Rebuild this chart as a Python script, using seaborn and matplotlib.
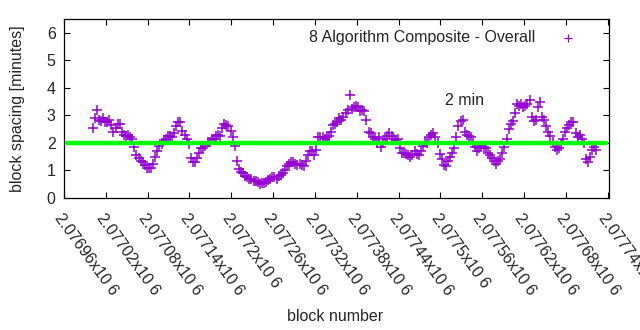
import numpy as np
import pandas as pd
import matplotlib
matplotlib.use("Agg")
import matplotlib.pyplot as plt
import matplotlib.transforms as mtransforms
import seaborn as sns

# ---- data ----
first_block = 2077001
block_step = 3
spacing_min = [
    2.55, 2.9, 3.2, 2.85, 2.8, 2.9, 2.75, 2.75, 2.85, 2.65,
    2.4, 2.55, 2.7, 2.7, 2.4, 2.3, 2.25, 2.3, 2.2, 2.15,
    1.85, 1.55, 1.45, 1.35, 1.3, 1.2, 1.1, 1.1, 1.1, 1.25,
    1.5, 1.7, 1.9, 1.95, 2.1, 2.15, 2.25, 2.25, 2.2, 2.35,
    2.6, 2.75, 2.75, 2.45, 2.3, 2.15, 1.95, 1.45, 1.3, 1.3,
    1.45, 1.65, 1.8, 1.8, 1.9, 2.05, 2.05, 2.15, 2.15, 2.25,
    2.3, 2.25, 2.55, 2.7, 2.65, 2.6, 2.45, 2.2, 1.9, 1.35,
    1.05, 0.95, 0.9, 0.8, 0.75, 0.7, 0.7, 0.6, 0.6, 0.58,
    0.5, 0.55, 0.55, 0.58, 0.65, 0.68, 0.75, 0.78, 0.7, 0.8,
    0.82, 0.9, 1.0, 1.15, 1.25, 1.3, 1.3, 1.25, 1.2, 1.25,
    1.2, 1.15, 1.35, 1.55, 1.7, 1.7, 1.55, 1.75, 2.2, 2.2,
    2.2, 2.15, 2.2, 2.25, 2.4, 2.65, 2.7, 2.75, 2.9, 2.85,
    2.95, 3.1, 3.2, 3.75, 3.25, 3.3, 3.35, 3.3, 3.15, 3.2,
    3.15, 2.85, 2.4, 2.35, 2.2, 2.15, 2.0, 2.2, 1.85, 2.0,
    2.15, 2.25, 2.35, 2.25, 2.15, 2.1, 2.15, 1.8, 1.65, 1.65,
    1.6, 1.55, 1.5, 1.55, 1.7, 1.6, 1.55, 1.7, 1.9, 2.05,
    2.0, 2.2, 2.3, 2.35, 2.2, 2.0, 1.6, 1.4, 1.2, 1.15,
    1.35, 1.5, 1.65, 1.8, 2.2, 2.6, 2.8, 2.85, 2.4, 2.3,
    2.25, 2.2, 2.0, 1.85, 1.7, 1.8, 1.9, 1.85, 1.8, 1.65,
    1.55, 1.45, 1.35, 1.25, 1.35, 1.4, 1.65, 1.85, 2.15, 2.5,
    2.7, 2.8, 3.1, 3.4, 3.35, 3.4, 3.3, 3.35, 3.4, 3.55,
    2.95, 2.8, 2.85, 3.3, 3.5, 2.95, 2.85, 2.6, 2.4, 2.25,
    2.05, 1.85, 1.75, 1.8, 1.95, 2.15, 2.4, 2.55, 2.65, 2.75,
    2.75, 2.35, 2.2, 2.3, 2.15, 2.0, 1.4, 1.3, 1.5, 1.75,
    1.85, 1.75,
]
target_minutes = 2
series_label = "8 Algorithm Composite - Overall"
x_tick_values = [2076960 + 60 * k for k in range(14)]
x_tick_labels = ["2.07696x10 6", "2.07702x10 6", "2.07708x10 6", "2.07714x10 6",
                 "2.0772x10 6", "2.07726x10 6", "2.07732x10 6", "2.07738x10 6",
                 "2.07744x10 6", "2.0775x10 6", "2.07756x10 6", "2.07762x10 6",
                 "2.07768x10 6", "2.07774x10 6"]
y_ticks = [0, 1, 2, 3, 4, 5, 6]

blocks = first_block + block_step * np.arange(len(spacing_min))
df = pd.DataFrame({"block": blocks, "spacing": spacing_min})

# ---- plot ----
sns.set_theme(style="white")
plt.rcParams["font.family"] = ["Liberation Sans", "DejaVu Sans"]
FS = 11.5
txt_col = "#262626"

fig = plt.figure(figsize=(6.4, 3.3), dpi=100)
ax = fig.add_axes([64 / 640, 132 / 330, 545 / 640, 179 / 330])

purple = "#9400D3"
sns.scatterplot(data=df, x="block", y="spacing", ax=ax, marker="+",
                s=52, color=purple, linewidth=1.1, label=series_label,
                zorder=3)
ax.axhline(target_minutes, xmin=0.005, xmax=0.995, color="#00FF00",
           lw=3.2, zorder=4)
ax.text(2077535, 3.53, "2 min", fontsize=FS, ha="center", va="center",
        color=txt_col)

ax.set_xlim(2076960, 2077742)
ax.set_ylim(0, 6.5)
ax.set_yticks(y_ticks)
ax.set_yticklabels([str(v) for v in y_ticks], fontsize=FS)
ax.set_xticks(x_tick_values)
ax.set_xticklabels(x_tick_labels, fontsize=FS, rotation=-54,
                   ha="left", va="top", rotation_mode="anchor")
shift = mtransforms.ScaledTranslation(6 / 100, 0, fig.dpi_scale_trans)
for lbl in ax.get_xticklabels():
    lbl.set_transform(lbl.get_transform() + shift)
ax.tick_params(axis="both", direction="in", length=4, width=0.8,
               top=True, right=True, bottom=True, left=True,
               colors="black", labelcolor=txt_col, pad=6)
ax.tick_params(axis="x", pad=9)
for s in ax.spines.values():
    s.set_color("black")
    s.set_linewidth(0.9)

ax.set_xlabel("block number", fontsize=FS, color=txt_col)
ax.set_ylabel("block spacing [minutes]", fontsize=FS, color=txt_col)
ax.xaxis.set_label_coords(0.497, -0.62)
ax.yaxis.set_label_coords(-0.072, 0.5)

leg = ax.legend(loc="upper right", frameon=False, fontsize=FS,
                markerfirst=False, handletextpad=1.35, handlelength=1.5,
                borderaxespad=0.3, bbox_to_anchor=(0.968, 1.0))
for h in leg.legend_handles:
    h.set_sizes([40])
    h.set_linewidths([0.9])

fig.savefig("out.png", dpi=100)
